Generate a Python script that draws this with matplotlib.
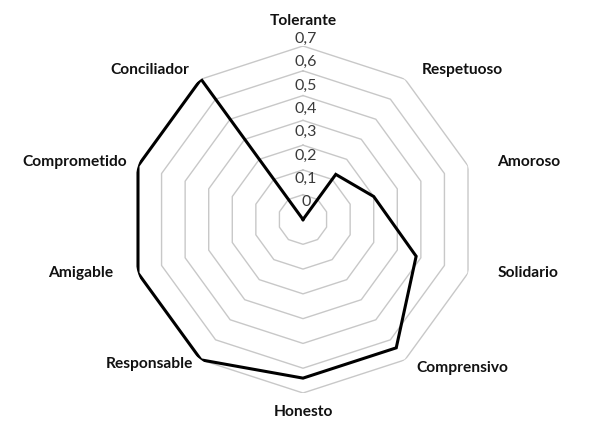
import numpy as np
import matplotlib.pyplot as plt

# Data
categories = ['Tolerante', 'Respetuoso', 'Amoroso', 'Solidario', 'Comprensivo',
              'Honesto', 'Responsable', 'Amigable', 'Comprometido', 'Conciliador']
values = [0.0, 0.225, 0.30, 0.48, 0.64, 0.64, 0.70, 0.70, 0.70, 0.70]
levels = [0.1, 0.2, 0.3, 0.4, 0.5, 0.6, 0.7]
tick_labels = ['0', '0,1', '0,2', '0,3', '0,4', '0,5', '0,6', '0,7']

# label placement (pixel offsets from outer vertex, alignment)
label_offsets = [(0, 25, 'center'), (17, 9, 'left'), (29, 4, 'left'), (30, 0, 'left'),
                 (11, -8, 'left'), (0, -19, 'center'), (-8, -4, 'right'),
                 (-25, 0, 'right'), (-11, 4, 'right'), (-12, 9, 'right')]

plt.rcParams['font.family'] = ['Lato', 'DejaVu Sans']

n = len(categories)
theta = np.arange(n) * 2 * np.pi / n
theta_closed = np.append(theta, theta[0])

fig = plt.figure(figsize=(6.07, 4.37), dpi=100)
cx, cy = 303 / 607, 1 - 219.5 / 437
w, h = 2 * 173.5 / 607, 2 * 173.5 / 437
ax = fig.add_axes([cx - w / 2, cy - h / 2, w, h], projection='polar')
ax.set_theta_zero_location('N')
ax.set_theta_direction(-1)
ax.set_ylim(0, 0.7)
ax.grid(False)
ax.spines['polar'].set_visible(False)
ax.set_xticks([])
ax.set_yticks([])
ax.patch.set_alpha(0)

# polygon grid
for lv in levels:
    ax.plot(theta_closed, [lv] * (n + 1), color='#c8c8c8', lw=1, zorder=1)

# data
vals = np.append(values, values[0])
ax.plot(theta_closed, vals, color='black', lw=2.2, solid_joinstyle='miter', zorder=3)

# tick labels along the top axis
for i, t in enumerate(tick_labels):
    v = i / 10
    r = 0.0706 + 0.94 * v
    ax.annotate(t, xy=(0, r), xytext=(3, 0), textcoords='offset pixels',
                ha='center', va='center', fontsize=11.5,
                color='#3a3a3a', zorder=4, annotation_clip=False)

# category labels
for k, name in enumerate(categories):
    dx, dy, ha = label_offsets[k]
    ax.annotate(name, xy=(theta[k], 0.7), xytext=(dx, dy), textcoords='offset pixels',
                ha=ha, va='center', fontsize=11.2, fontweight='bold', color='#111111',
                annotation_clip=False)

fig.savefig('out.png', dpi=100)
